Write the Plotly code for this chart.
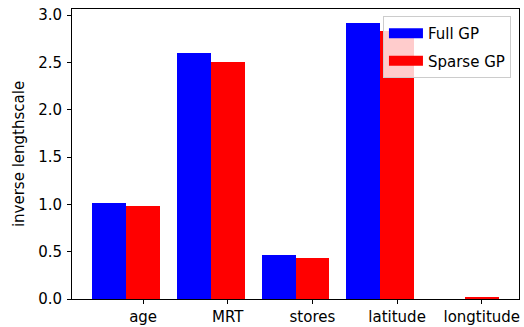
import plotly.graph_objects as go

# Inverse lengthscale per input feature, full vs. sparse GP
features = ["age", "MRT", "stores", "latitude", "longtitude"]
full_gp = [1.02, 2.60, 0.46, 2.92, 0.0]
sparse_gp = [0.98, 2.51, 0.43, 2.83, 0.015]

series_names = ["Full GP", "Sparse GP"]
series_colors = ["#0000ff", "#ff0000"]
bar_width = 0.4
FONT_SIZE = 15

idx = list(range(len(features)))
fig = go.Figure()

# Full GP bars sit just left of each tick, Sparse GP bars are centered on it
fig.add_trace(go.Bar(x=[i - bar_width for i in idx], y=full_gp, width=bar_width,
                     marker=dict(color=series_colors[0], line=dict(width=0)),
                     name=series_names[0], showlegend=False))
fig.add_trace(go.Bar(x=idx, y=sparse_gp, width=bar_width,
                     marker=dict(color=series_colors[1], line=dict(width=0)),
                     name=series_names[1], showlegend=False))

# Legend entries drawn as wide colour patches
for k, (name, color) in enumerate(zip(series_names, series_colors)):
    fig.add_trace(go.Scatter(x=[None], y=[None], mode="lines", name=name,
                             line=dict(color=color, width=10),
                             legendgroup=f"g{k}"))

ymax = max(max(full_gp), max(sparse_gp)) * 1.05

fig.update_layout(
    width=524, height=327,
    margin=dict(l=72, r=5, t=9, b=28, autoexpand=False),
    paper_bgcolor="white", plot_bgcolor="white",
    font=dict(family="DejaVu Sans", size=FONT_SIZE, color="black"),
    bargap=0, barmode="overlay",
    legend=dict(x=0.982, y=0.976, xanchor="right", yanchor="top",
                bgcolor="rgba(255,255,255,0.8)", bordercolor="#cccccc",
                borderwidth=1, font=dict(size=FONT_SIZE), tracegroupgap=5,
                itemwidth=34),
)

fig.update_xaxes(
    range=[-0.84, 4.44], tickmode="array", tickvals=idx, ticktext=features,
    showgrid=False, zeroline=False, showline=True, linecolor="black",
    linewidth=1, mirror=True, ticks="outside", ticklen=4, tickcolor="black",
    tickfont=dict(size=FONT_SIZE), automargin=False,
)
fig.update_yaxes(
    range=[0, ymax], tickmode="array", tickvals=[0, 0.5, 1, 1.5, 2, 2.5, 3],
    ticktext=["0.0", "0.5", "1.0", "1.5", "2.0", "2.5", "3.0"],
    showgrid=False, zeroline=False, showline=True, linecolor="black",
    linewidth=1, mirror=True, ticks="outside", ticklen=4, tickcolor="black",
    tickfont=dict(size=FONT_SIZE), ticklabelstandoff=2, automargin=False,
    title=dict(text="inverse lengthscale", standoff=9,
               font=dict(size=FONT_SIZE)),
)

fig.write_html("out.html")
